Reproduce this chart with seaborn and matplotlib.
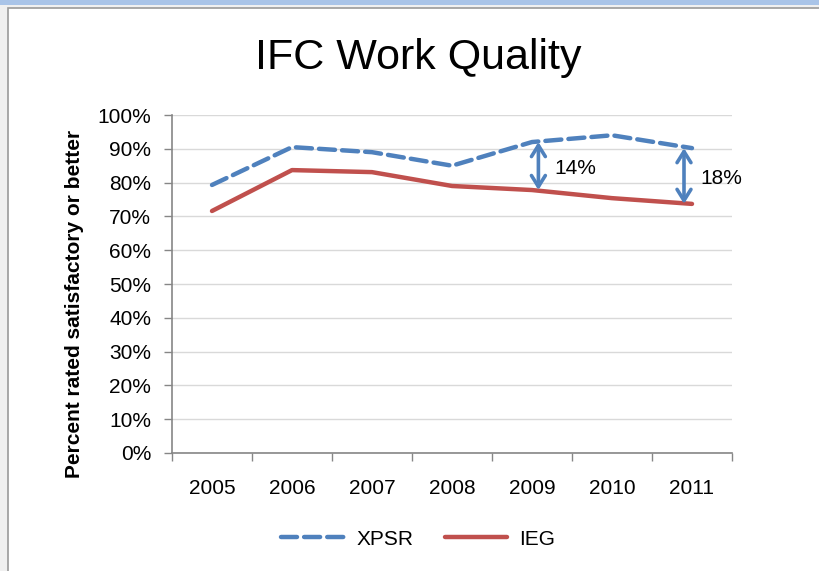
import matplotlib
matplotlib.use("Agg")
import matplotlib.pyplot as plt
from matplotlib.patches import Rectangle
import numpy as np
import pandas as pd
import seaborn as sns

# ── Data ──
years = ["2005", "2006", "2007", "2008", "2009", "2010", "2011"]
xpsr = [79.3, 90.5, 89.0, 85.0, 92.0, 94.0, 90.2]
ieg = [71.6, 83.7, 83.1, 79.0, 77.8, 75.4, 73.7]
gap_years = ["2009", "2011"]
gap_labels = ["14%", "18%"]

BLUE = "#4f81bd"
RED = "#c0504d"

sns.set_style("white")
plt.rcParams["font.family"] = ["Liberation Sans Narrow", "Liberation Sans", "DejaVu Sans"]
plt.rcParams["text.color"] = "black"
plt.rcParams["xtick.color"] = "black"
plt.rcParams["ytick.color"] = "black"
plt.rcParams["axes.labelcolor"] = "black"

df = pd.DataFrame({"pos": np.arange(len(years)), "XPSR": xpsr, "IEG": ieg})

fig = plt.figure(figsize=(8.2, 5.71), dpi=100, facecolor="#f0f0f0")
# chart frame like the office export
fig.patches.append(Rectangle((0, 1 - 5 / 571), 1, 5 / 571, transform=fig.transFigure,
                             facecolor="#a9c4e8", edgecolor="none", zorder=-10))
fig.patches.append(Rectangle((8 / 820, -0.1), 1.2, 1 - 8 / 571 + 0.1, transform=fig.transFigure,
                             facecolor="white", edgecolor="#9a9a9a", lw=1.2, zorder=-10))

ax = fig.add_axes([172 / 820, 1 - 453 / 571, 560 / 820, 338 / 571])
ax.set_facecolor("none")

sns.lineplot(data=df, x="pos", y="XPSR", ax=ax, color=BLUE, lw=3.2, label="XPSR")
sns.lineplot(data=df, x="pos", y="IEG", ax=ax, color=RED, lw=3.2, label="IEG")
xl = ax.lines[0]
xl.set_dashes((3.6, 1.6))
xl.set_dash_capstyle("round")

# gap arrows between the two series
offsets = {"2009": 0.08, "2011": -0.1}
for yr, lab in zip(gap_years, gap_labels):
    i = years.index(yr)
    x = i + offsets[yr]
    ax.annotate("", xy=(x, ieg[i]), xytext=(x, xpsr[i]),
                arrowprops=dict(arrowstyle="<->,head_length=0.8,head_width=0.5",
                                color=BLUE, lw=2.6, shrinkA=0, shrinkB=0))
    ax.text(x + 0.2, (xpsr[i] + ieg[i]) / 2 - 0.6, lab, fontsize=15,
            ha="left", va="center")

ax.set_xlim(-0.5, len(years) - 0.5)
ax.set_ylim(0, 100)
ax.set_yticks(np.arange(0, 101, 10))
ax.set_yticklabels([f"{v}%" for v in range(0, 101, 10)], fontsize=15)
ax.set_xticks(np.arange(-0.5, len(years), 1.0))
ax.set_xticklabels([])
ax.set_xticks(np.arange(len(years)), minor=True)
ax.set_xticklabels(years, minor=True, fontsize=15)
ax.tick_params(axis="x", which="major", bottom=True, length=6, width=1,
               color="#868686", direction="out")
ax.tick_params(axis="x", which="minor", bottom=True, length=0, pad=19)
ax.tick_params(axis="y", left=True, length=6, width=1, color="#868686",
               direction="out", pad=9)
ax.grid(axis="y", color="#d9d9d9", lw=1)
ax.set_axisbelow(True)
for s in ["top", "right"]:
    ax.spines[s].set_visible(False)
for s in ["left", "bottom"]:
    ax.spines[s].set_color("#868686")
    ax.spines[s].set_linewidth(1.2)

ax.set_xlabel("")
ax.set_ylabel("Percent rated satisfactory or better", fontsize=15, fontweight="bold")
ax.yaxis.set_label_coords(-0.157, 0.44)
fig.text(418 / 820, 1 - 58 / 571, "IFC Work Quality", fontsize=31,
         ha="center", va="center")

ax.legend(loc="center", bbox_to_anchor=(0.44, -0.255), ncol=2, frameon=False,
          fontsize=15, handlelength=3.0, columnspacing=1.5, handletextpad=0.6)

fig.savefig("out.png", dpi=100, facecolor=fig.get_facecolor())
